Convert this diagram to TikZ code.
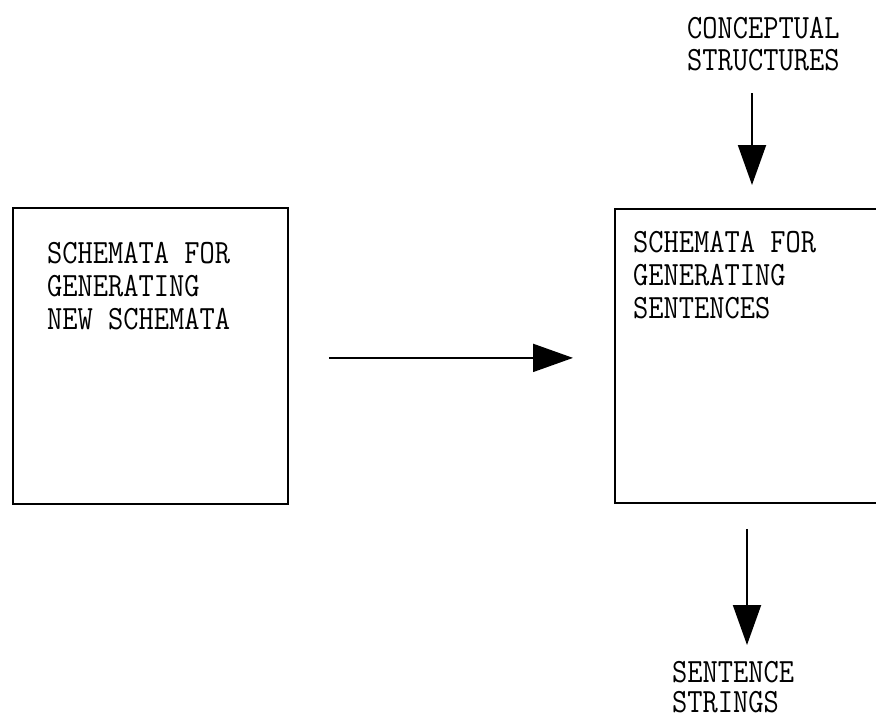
\documentclass[tikz,border=0pt]{standalone}
\usepackage{graphicx}
\usetikzlibrary{arrows.meta}
% typewriter lines, slightly condensed, stacked in a tabular
\newcommand\typed[1]{\scalebox{0.87}[1]{\begin{tabular}{@{}l@{}}#1\end{tabular}}}
\begin{document}
\begin{tikzpicture}[x=1pt,y=-1pt,
  box/.style={draw, line width=1.8pt, minimum width=#1,
              inner sep=0pt, anchor=north west},
  lbl/.style={font=\ttfamily\fontsize{34}{#1}\selectfont,
              inner sep=0pt, anchor=north west},
  lbl/.default=33,
  flow/.style={line width=2pt, -{Triangle[length=40pt,width=28pt]}}]
\useasboundingbox (0,0) rectangle (876,718);
\clip (0,0) rectangle (876,718);

% the two schema boxes
\node[box=275pt, minimum height=296pt] (lbox) at (12,207) {};
\node[box=300pt, minimum height=294pt] (rbox) at (614,208) {};

% texts
\node[lbl] (ltext) at (47,240) {\typed{SCHEMATA FOR\\GENERATING\\NEW SCHEMATA}};
\node[lbl] (rtext) at (633,229) {\typed{SCHEMATA FOR\\GENERATING\\SENTENCES}};
\node[lbl=32] (cs) at (687,15.6) {\typed{CONCEPTUAL\\STRUCTURES}};
\node[lbl=30] (ss) at (672,661) {\typed{SENTENCE\\STRINGS}};

% connectors
\coordinate (hs) at ([yshift=-2pt]lbox.east);
\draw[flow, shorten <=40pt, shorten >=41pt] (hs) -- (hs -| rbox.west);

\coordinate (ta) at ([xshift=65pt]cs.south west);
\draw[flow, shorten <=13pt, shorten >=23pt] (ta) -- (ta |- rbox.north);

\coordinate (ba) at ([xshift=75pt]ss.north west);
\draw[flow, shorten <=25pt, shorten >=16pt] (ba |- rbox.south) -- (ba);
\end{tikzpicture}
\end{document}
